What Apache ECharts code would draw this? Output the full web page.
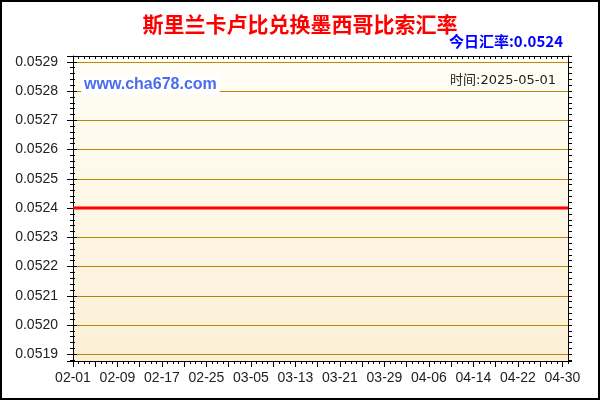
<!DOCTYPE html>
<html>
<head>
<meta charset="utf-8">
<script src="https://cdn.jsdelivr.net/npm/echarts@6/dist/echarts.min.js"></script>
<style>
html,body{margin:0;padding:0;background:#fff;}
#chart{width:600px;height:400px;}
</style>
</head>
<body>
<div id="chart"></div>
<script>
const titleText = '斯里兰卡卢比兑换墨西哥比索汇率';
const todayRateText = '今日汇率:0.0524';
const siteText = 'www.cha678.com';
const timeText = '时间:2025-05-01';

const dates = [
 '02-01','02-02','02-03','02-04','02-05','02-06','02-07','02-08','02-09','02-10',
 '02-11','02-12','02-13','02-14','02-15','02-16','02-17','02-18','02-19','02-20',
 '02-21','02-22','02-23','02-24','02-25','02-26','02-27','02-28',
 '03-01','03-02','03-03','03-04','03-05','03-06','03-07','03-08','03-09','03-10',
 '03-11','03-12','03-13','03-14','03-15','03-16','03-17','03-18','03-19','03-20',
 '03-21','03-22','03-23','03-24','03-25','03-26','03-27','03-28','03-29','03-30','03-31',
 '04-01','04-02','04-03','04-04','04-05','04-06','04-07','04-08','04-09','04-10',
 '04-11','04-12','04-13','04-14','04-15','04-16','04-17','04-18','04-19','04-20',
 '04-21','04-22','04-23','04-24','04-25','04-26','04-27','04-28','04-29','04-30',
 '05-01'
];

const rates = [
 0.0524,0.0524,0.0524,0.0524,0.0524,0.0524,0.0524,0.0524,0.0524,0.0524,
 0.0524,0.0524,0.0524,0.0524,0.0524,0.0524,0.0524,0.0524,0.0524,0.0524,
 0.0524,0.0524,0.0524,0.0524,0.0524,0.0524,0.0524,0.0524,
 0.0524,0.0524,0.0524,0.0524,0.0524,0.0524,0.0524,0.0524,0.0524,0.0524,
 0.0524,0.0524,0.0524,0.0524,0.0524,0.0524,0.0524,0.0524,0.0524,0.0524,
 0.0524,0.0524,0.0524,0.0524,0.0524,0.0524,0.0524,0.0524,0.0524,0.0524,0.0524,
 0.0524,0.0524,0.0524,0.0524,0.0524,0.0524,0.0524,0.0524,0.0524,0.0524,
 0.0524,0.0524,0.0524,0.0524,0.0524,0.0524,0.0524,0.0524,0.0524,0.0524,
 0.0524,0.0524,0.0524,0.0524,0.0524,0.0524,0.0524,0.0524,0.0524,0.0524,
 0.0524
];

const yMin = 0.051877;
const yMax = 0.05292;

const chart = echarts.init(document.getElementById('chart'), null, {renderer: 'canvas'});

const gold = '#B8860B';
const axisFont = 'Arial, "Liberation Sans", sans-serif';

chart.setOption({
  animation: false,
  backgroundColor: '#ffffff',
  title: {
    text: titleText,
    left: 'center',
    top: 9,
    textStyle: {
      color: '#FF0000',
      fontSize: 21,
      fontWeight: 'bold',
      fontFamily: '"Noto Sans CJK SC", sans-serif'
    }
  },
  grid: {
    left: 73,
    right: 32,
    top: 56,
    bottom: 39,
    show: true,
    borderWidth: 0,
    backgroundColor: {
      type: 'linear', x: 0, y: 0, x2: 0, y2: 1,
      colorStops: [
        {offset: 0, color: '#FFFEF6'},
        {offset: 1, color: '#FCF0D6'}
      ]
    },
    containLabel: false,
    outerBoundsMode: 'none'
  },
  xAxis: [
    {
      type: 'category',
      position: 'bottom',
      boundaryGap: false,
      data: dates,
      axisLine: {show: true, lineStyle: {color: '#000', width: 1}},
      axisTick: {show: true, interval: 3, length: 6, inside: false, lineStyle: {color: '#000'}},
      axisLabel: {interval: 7, fontSize: 14, color: '#222', margin: 10, fontFamily: axisFont},
      splitLine: {show: false}
    },
    {
      type: 'category',
      position: 'bottom',
      boundaryGap: false,
      data: dates,
      axisLine: {show: false},
      axisTick: {show: true, interval: 0, length: 3, inside: false, lineStyle: {color: '#000'}},
      axisLabel: {show: false},
      splitLine: {show: false}
    },
    {
      type: 'category',
      position: 'top',
      boundaryGap: false,
      data: dates,
      axisLine: {show: true, lineStyle: {color: '#000', width: 1}},
      axisTick: {show: true, interval: 0, length: 3, inside: true, lineStyle: {color: '#000'}},
      axisLabel: {show: false},
      splitLine: {show: false}
    }
  ],
  yAxis: [
    {
      type: 'value',
      position: 'left',
      min: yMin,
      max: yMax,
      splitNumber: 10,
      axisLine: {show: true, lineStyle: {color: '#000', width: 1}},
      axisTick: {show: true, length: 6, inside: false, lineStyle: {color: '#000'}},
      minorTick: {show: true, splitNumber: 5, length: 3, lineStyle: {color: '#000'}},
      axisLabel: {
        fontSize: 14, color: '#222', margin: 15, fontFamily: axisFont,
        showMinLabel: false, showMaxLabel: false,
        formatter: v => v.toFixed(4)
      },
      splitLine: {show: true, showMinLine: false, showMaxLine: false, lineStyle: {color: gold, width: 1}}
    },
    {
      type: 'value',
      position: 'left',
      min: yMin,
      max: yMax,
      splitNumber: 10,
      axisLine: {show: false},
      axisTick: {show: true, length: 4, inside: true, lineStyle: {color: '#000'}},
      minorTick: {show: true, splitNumber: 5, length: 2, lineStyle: {color: '#000'}},
      axisLabel: {show: false},
      splitLine: {show: false}
    },
    {
      type: 'value',
      position: 'right',
      min: yMin,
      max: yMax,
      splitNumber: 10,
      axisLine: {show: true, lineStyle: {color: '#000', width: 1}},
      axisTick: {show: true, length: 4, inside: false, lineStyle: {color: '#000'}},
      minorTick: {show: true, splitNumber: 5, length: 4, lineStyle: {color: '#000'}},
      axisLabel: {show: false},
      splitLine: {show: false}
    }
  ],
  series: [
    {
      type: 'line',
      xAxisIndex: 0,
      yAxisIndex: 0,
      data: rates,
      symbol: 'none',
      lineStyle: {color: '#FF0000', width: 3},
      z: 5
    }
  ],
  graphic: [
    {
      type: 'text',
      right: 37,
      top: 34,
      z: 10,
      style: {
        text: todayRateText,
        fill: '#0000FF',
        font: 'bold 15px "Noto Sans CJK SC", Arial, sans-serif'
      }
    },
    {
      type: 'text',
      left: 81,
      top: 75,
      z: 10,
      style: {
        text: siteText,
        fill: '#4A6CF0',
        font: 'bold 16px Arial, "Liberation Sans", sans-serif',
        backgroundColor: '#FFFFFF',
        padding: [2, 3, 1, 3]
      }
    },
    {
      type: 'text',
      right: 44,
      top: 74,
      z: 10,
      style: {
        text: timeText,
        fill: '#222',
        font: '13px "DejaVu Sans", "Noto Sans CJK SC", sans-serif'
      }
    },
    {
      type: 'rect',
      z: 20,
      silent: true,
      shape: {x: 1, y: 1, width: 598, height: 398},
      style: {fill: 'none', stroke: '#000', lineWidth: 2}
    }
  ]
});
</script>
</body>
</html>
